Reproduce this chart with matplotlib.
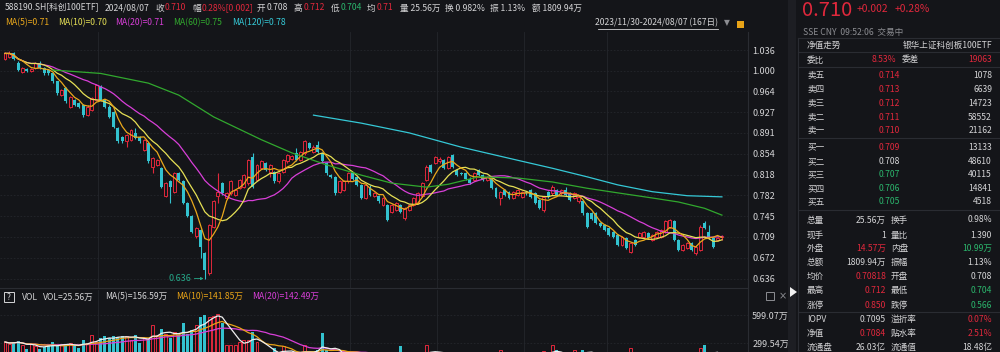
import numpy as np
import pandas as pd
import matplotlib
matplotlib.use("Agg")
import matplotlib.pyplot as plt
from matplotlib.patches import Rectangle, Polygon
from matplotlib.lines import Line2D

plt.rcParams['font.family'] = ['Noto Sans CJK SC', 'DejaVu Sans']

# ---- daily candles 2023/11/30 - 2024/08/07 ----
opens = [1.021, 1.024, 1.030, 1.013, 0.998, 1.002, 0.999, 1.004, 1.013, 1.004,
         1.001, 0.995, 0.981, 0.957, 0.969, 0.937, 0.949, 0.943, 0.940, 0.922,
         0.931, 0.949, 0.972, 0.949, 0.937, 0.928, 0.899, 0.884, 0.876, 0.879,
         0.890, 0.884, 0.861, 0.873, 0.832, 0.835, 0.829, 0.780, 0.806, 0.788,
         0.820, 0.806, 0.768, 0.745, 0.710, 0.721, 0.680, 0.645, 0.727, 0.780,
         0.803, 0.777, 0.785, 0.782, 0.794, 0.797, 0.803, 0.849, 0.809,
         0.829, 0.838, 0.823, 0.823, 0.806, 0.823, 0.841, 0.845, 0.855, 0.844,
         0.855, 0.873, 0.858, 0.870, 0.855, 0.838, 0.817, 0.814, 0.788, 0.791,
         0.806, 0.820, 0.814, 0.800, 0.777, 0.797, 0.780, 0.780, 0.765, 0.765,
         0.753, 0.756, 0.765, 0.742, 0.756, 0.765, 0.768, 0.780, 0.809, 0.835,
         0.838, 0.841, 0.844, 0.829, 0.852, 0.826, 0.821, 0.820, 0.811, 0.809,
         0.826, 0.817, 0.809, 0.811, 0.794, 0.777, 0.791, 0.788, 0.777,
         0.782, 0.779, 0.788, 0.791, 0.785, 0.774, 0.756, 0.788, 0.785, 0.791,
         0.785, 0.791, 0.785, 0.777, 0.771, 0.771, 0.750, 0.750, 0.750, 0.733,
         0.730, 0.724, 0.718, 0.712, 0.695, 0.707, 0.683, 0.704, 0.709, 0.709,
         0.716, 0.704, 0.709, 0.709, 0.718, 0.727, 0.736, 0.704, 0.686, 0.689,
         0.698, 0.680, 0.686, 0.733, 0.718, 0.707, 0.704, 0.708]
highs = [1.033, 1.034, 1.032, 1.016, 1.006, 1.004, 1.004, 1.015, 1.016, 1.006,
         1.003, 0.997, 0.982, 0.968, 0.971, 0.956, 0.951, 0.945, 0.942, 0.939,
         0.954, 0.977, 0.974, 0.951, 0.939, 0.930, 0.901, 0.886, 0.889, 0.898,
         0.899, 0.886, 0.881, 0.875, 0.849, 0.846, 0.831, 0.805, 0.808, 0.822,
         0.822, 0.808, 0.770, 0.747, 0.726, 0.723, 0.682, 0.732, 0.773, 0.820,
         0.805, 0.787, 0.808, 0.793, 0.811, 0.819, 0.846, 0.855, 0.837,
         0.843, 0.840, 0.837, 0.825, 0.822, 0.846, 0.854, 0.853, 0.864, 0.860,
         0.878, 0.875, 0.869, 0.876, 0.857, 0.840, 0.819, 0.816, 0.808, 0.808,
         0.822, 0.822, 0.816, 0.802, 0.802, 0.799, 0.787, 0.782, 0.779, 0.767,
         0.767, 0.770, 0.767, 0.761, 0.767, 0.779, 0.787, 0.805, 0.834, 0.837,
         0.851, 0.848, 0.846, 0.851, 0.854, 0.828, 0.823, 0.822, 0.813, 0.822,
         0.828, 0.819, 0.816, 0.813, 0.796, 0.790, 0.793, 0.790, 0.790,
         0.793, 0.790, 0.790, 0.793, 0.787, 0.776, 0.781, 0.790, 0.799, 0.793,
         0.793, 0.796, 0.787, 0.787, 0.781, 0.773, 0.752, 0.752, 0.752, 0.735,
         0.732, 0.726, 0.720, 0.714, 0.711, 0.709, 0.700, 0.706, 0.717, 0.720,
         0.718, 0.714, 0.720, 0.723, 0.738, 0.741, 0.738, 0.706, 0.697, 0.700,
         0.700, 0.694, 0.729, 0.736, 0.730, 0.709, 0.709, 0.712]
lows = [1.019, 1.022, 1.019, 0.999, 0.996, 0.997, 0.997, 1.002, 1.002, 0.993,
        0.993, 0.979, 0.958, 0.955, 0.944, 0.934, 0.938, 0.935, 0.919, 0.920,
        0.929, 0.947, 0.947, 0.935, 0.917, 0.900, 0.874, 0.873, 0.867, 0.877,
        0.880, 0.874, 0.859, 0.839, 0.820, 0.833, 0.795, 0.778, 0.768, 0.786,
        0.807, 0.766, 0.743, 0.716, 0.707, 0.672, 0.636, 0.643, 0.725, 0.768,
        0.783, 0.775, 0.783, 0.780, 0.792, 0.795, 0.800, 0.795, 0.807,
        0.827, 0.824, 0.814, 0.804, 0.804, 0.821, 0.839, 0.843, 0.842, 0.842,
        0.853, 0.862, 0.856, 0.856, 0.839, 0.818, 0.812, 0.783, 0.786, 0.789,
        0.804, 0.809, 0.798, 0.775, 0.775, 0.780, 0.778, 0.769, 0.763, 0.737,
        0.751, 0.754, 0.751, 0.739, 0.754, 0.763, 0.766, 0.778, 0.807, 0.821,
        0.836, 0.839, 0.827, 0.827, 0.830, 0.815, 0.817, 0.809, 0.801, 0.807,
        0.815, 0.807, 0.807, 0.792, 0.777, 0.765, 0.780, 0.775, 0.775,
        0.780, 0.777, 0.783, 0.777, 0.766, 0.757, 0.753, 0.777, 0.783, 0.780,
        0.783, 0.780, 0.772, 0.775, 0.769, 0.748, 0.725, 0.739, 0.731, 0.726,
        0.719, 0.710, 0.707, 0.693, 0.693, 0.687, 0.680, 0.693, 0.707, 0.707,
        0.705, 0.702, 0.707, 0.707, 0.716, 0.725, 0.702, 0.684, 0.684, 0.687,
        0.684, 0.678, 0.684, 0.722, 0.705, 0.690, 0.702, 0.704]
closes = [1.030, 1.030, 1.021, 1.001, 1.004, 0.999, 1.002, 1.013, 1.004, 0.995,
          0.995, 0.981, 0.960, 0.966, 0.946, 0.954, 0.940, 0.937, 0.922, 0.937,
          0.952, 0.975, 0.949, 0.937, 0.919, 0.902, 0.876, 0.876, 0.887, 0.896,
          0.882, 0.876, 0.879, 0.841, 0.847, 0.844, 0.797, 0.803, 0.797, 0.820,
          0.809, 0.768, 0.745, 0.718, 0.724, 0.692, 0.651, 0.730, 0.771, 0.788,
          0.785, 0.785, 0.806, 0.791, 0.809, 0.817, 0.844, 0.797, 0.835,
          0.841, 0.826, 0.835, 0.806, 0.820, 0.844, 0.852, 0.851, 0.844, 0.858,
          0.876, 0.864, 0.867, 0.858, 0.841, 0.820, 0.814, 0.785, 0.806, 0.806,
          0.820, 0.811, 0.800, 0.777, 0.800, 0.782, 0.785, 0.771, 0.777, 0.739,
          0.765, 0.768, 0.753, 0.759, 0.765, 0.777, 0.785, 0.803, 0.832, 0.823,
          0.849, 0.846, 0.829, 0.849, 0.832, 0.817, 0.819, 0.811, 0.803, 0.820,
          0.817, 0.809, 0.814, 0.794, 0.779, 0.788, 0.782, 0.777, 0.788,
          0.791, 0.788, 0.785, 0.779, 0.768, 0.759, 0.779, 0.779, 0.797, 0.782,
          0.791, 0.782, 0.774, 0.785, 0.779, 0.750, 0.727, 0.741, 0.733, 0.728,
          0.721, 0.712, 0.709, 0.695, 0.709, 0.689, 0.698, 0.695, 0.715, 0.718,
          0.707, 0.712, 0.718, 0.721, 0.736, 0.739, 0.704, 0.686, 0.695, 0.698,
          0.686, 0.692, 0.727, 0.724, 0.707, 0.692, 0.707, 0.710]
# volume, 万手
volumes = [310, 290, 305, 320, 275, 240, 285, 270, 235, 260,
           280, 310, 265, 280, 280, 300, 270, 245, 335, 300,
           385, 310, 350, 370, 350, 375, 360, 370, 375, 335,
           385, 300, 350, 335, 495, 385, 450, 395, 350, 420,
           385, 510, 400, 440, 495, 580, 600, 580, 585, 605,
           510, 280, 280, 280, 310, 335, 335, 420, 310,
           200, 190, 170, 246, 180, 264, 200, 180, 160, 190,
           281, 200, 170, 230, 405, 230, 150, 200, 160, 150,
           170, 180, 150, 160, 170, 140, 130, 150, 140, 190,
           140, 150, 264, 160, 150, 160, 170, 190, 281, 200,
           190, 150, 160, 190, 170, 140, 110, 120, 130, 110,
           120, 130, 120, 170, 180, 228, 160, 140, 130,
           150, 140, 120, 150, 180, 190, 215, 140, 281, 228,
           150, 130, 150, 221, 190, 228, 200, 170, 160, 140,
           160, 170, 180, 190, 160, 170, 246, 160, 150, 130,
           140, 120, 130, 140, 150, 190, 140, 141, 100, 95,
           90, 105, 246, 281, 185, 150, 141, 25.56]

ma60_days = [11, 22, 33, 40, 48, 59, 66, 74, 82, 89, 97, 102, 109, 118, 126,
             134, 141, 149, 155, 161, 165]
ma60_vals = [1.001, 0.995, 0.978, 0.957, 0.919, 0.879, 0.856, 0.835, 0.817,
             0.803, 0.796, 0.801, 0.814, 0.812, 0.805, 0.794, 0.786, 0.777,
             0.770, 0.759, 0.747]
ma120_days = [71, 82, 93, 105, 118, 126, 134, 141, 149, 157, 161, 165]
ma120_vals = [0.922, 0.908, 0.891, 0.866, 0.843, 0.829, 0.814, 0.800, 0.788,
              0.781, 0.780, 0.779]

price_ticks = [1.036, 1.000, 0.964, 0.927, 0.891, 0.854, 0.818, 0.782, 0.745,
               0.709, 0.672, 0.636]
vol_ticks = [599.07, 299.54]
month_starts = [22, 80, 100, 120, 139]

# ---- right side quote panel ----
ask_names = ['卖五', '卖四', '卖三', '卖二', '卖一']
ask_prices = ['0.714', '0.713', '0.712', '0.711', '0.710']
ask_sizes = ['1078', '6639', '14723', '58552', '21162']
bid_names = ['买一', '买二', '买三', '买四', '买五']
bid_prices = ['0.709', '0.708', '0.707', '0.706', '0.705']
bid_sizes = ['13133', '48610', '40115', '14841', '4518']
stat_rows = [('总量', '25.56万', '换手', '0.98%'),
             ('现手', '1', '量比', '1.390'),
             ('外盘', '14.57万', '内盘', '10.99万'),
             ('总额', '1809.94万', '振幅', '1.13%'),
             ('均价', '0.70818', '开盘', '0.708'),
             ('最高', '0.712', '最低', '0.704'),
             ('涨停', '0.850', '跌停', '0.566')]
fund_rows = [('IOPV', '0.7095', '溢折率', '0.07%'),
             ('净值', '0.7084', '贴水率', '2.51%'),
             ('流通盘', '26.03亿', '流通值', '18.48亿')]

W, H = 1000, 352
BG = '#141519'
FG = '#d4d4d6'
GREY = '#8c8d92'
LINE = '#2a2c32'
GRID = '#24262c'
RED = '#e0283c'
CYAN = '#33c2cf'
GREEN = '#2bb56c'
MA_COLORS = {'ma5': '#eaa81c', 'ma10': '#e6e055', 'ma20': '#d83fd8',
             'ma60': '#31a82e', 'ma120': '#35c8d6'}
FS = 6.2

fig = plt.figure(figsize=(W / 100, H / 100), dpi=100, facecolor=BG)


def fx(x):
    return x / W


def fy(y):
    return 1 - y / H


def put(x, y, s, color=FG, size=FS, ha='left', **kw):
    fig.text(fx(x), fy(y), s, color=color, fontsize=size, ha=ha, va='center', **kw)


def hline(x0, x1, y, color=LINE, lw=0.8):
    fig.add_artist(Line2D([fx(x0), fx(x1)], [fy(y), fy(y)], color=color, lw=lw))


def vline(x, y0, y1, color=LINE, lw=0.8):
    fig.add_artist(Line2D([fx(x), fx(x)], [fy(y0), fy(y1)], color=color, lw=lw))


n = len(closes)
idx = np.arange(n)
o, h, l, c = (np.array(a) for a in (opens, highs, lows, closes))
up = c >= o
dn = ~up
X0, DX = 5, 4.345
BW = 0.68

# ---- price panel ----
ax = fig.add_axes([0, fy(288), fx(748), fy(32) - fy(288)])
ax.set_facecolor(BG)
ax.set_xlim(-X0 / DX, (748 - X0) / DX)
ax.set_ylim(1.036 - (288 - 50) / 571.4, 1.036 + (50 - 32) / 571.4)
for s in ax.spines.values():
    s.set_visible(False)
ax.set_xticks([])
ax.yaxis.tick_right()
ax.set_yticks(price_ticks, [f'{t:.3f}' for t in price_ticks])
ax.tick_params(axis='y', length=0, pad=3, labelsize=FS + 0.3, labelcolor=FG)
for t in price_ticks:
    ax.axhline(t, color=GRID, lw=0.6, ls=(0, (2, 2)), zorder=0)
for m in month_starts:
    ax.axvline(m - 0.5, color=GRID, lw=0.6, zorder=0)

ax.vlines(idx[dn], l[dn], h[dn], color=CYAN, lw=0.8, zorder=2)
ax.bar(idx[dn], (o - c)[dn], bottom=c[dn], width=BW, color=CYAN, lw=0, zorder=3)
top = np.maximum(o, c)
ax.vlines(idx[up], top[up], h[up], color=RED, lw=0.8, zorder=2)
ax.vlines(idx[up], l[up], o[up], color=RED, lw=0.8, zorder=2)
ax.bar(idx[up], np.maximum((c - o)[up], 0.0008), bottom=o[up], width=BW,
       facecolor=BG, edgecolor=RED, lw=0.7, zorder=3)

cs = pd.Series(closes)
ax.plot(idx, cs.rolling(20, min_periods=1).mean(), color=MA_COLORS['ma20'], lw=0.9, zorder=4)
ax.plot(idx, cs.rolling(10, min_periods=1).mean(), color=MA_COLORS['ma10'], lw=0.9, zorder=4)
ax.plot(idx, cs.rolling(5, min_periods=1).mean(), color=MA_COLORS['ma5'], lw=0.9, zorder=4)
ax.plot(ma60_days, ma60_vals, color=MA_COLORS['ma60'], lw=0.9, zorder=4)
ax.plot(ma120_days, ma120_vals, color=MA_COLORS['ma120'], lw=0.9, zorder=4)

low_i = int(np.argmin(l))
ax.annotate(f'{l[low_i]:.3f}', xy=(low_i - 0.3, l[low_i]), xytext=(-12, 0),
            textcoords='offset pixels', ha='right', va='center', fontsize=FS + 0.3,
            color='#27a98a',
            arrowprops=dict(arrowstyle='-|>', color='#27a98a', lw=0.6,
                            shrinkA=0, shrinkB=0, mutation_scale=4))

# ---- volume panel ----
vx = fig.add_axes([0, 0, fx(748), fy(290)])
vx.set_facecolor(BG)
vx.set_xlim(ax.get_xlim())
vx.set_ylim(203.3, 866.5)
for s in vx.spines.values():
    s.set_visible(False)
vx.set_xticks([])
vx.yaxis.tick_right()
vx.set_yticks(vol_ticks, [f'{t:.2f}万' for t in vol_ticks])
vx.tick_params(axis='y', length=0, pad=3, labelsize=FS + 0.3, labelcolor=FG)
for t in vol_ticks:
    vx.axhline(t, color=GRID, lw=0.6, ls=(0, (2, 2)), zorder=0)
for m in month_starts:
    vx.axvline(m - 0.5, color=GRID, lw=0.6, zorder=0)
v = np.array(volumes)
vx.bar(idx[dn], v[dn], width=BW, color=CYAN, lw=0, zorder=3)
vx.bar(idx[up], v[up], width=BW, facecolor=BG, edgecolor=RED, lw=0.7, zorder=3)
vs = pd.Series(volumes)
vx.plot(idx, vs.rolling(20, min_periods=1).mean(), color='#d83fd8', lw=0.9, zorder=4)
vx.plot(idx, vs.rolling(10, min_periods=1).mean(), color='#e8a317', lw=0.9, zorder=4)
vx.plot(idx, vs.rolling(5, min_periods=1).mean(), color='#eeeeee', lw=0.9, zorder=4)

# ---- frame lines ----
vline(748, 32, 352, color=LINE)
hline(0, 748, 288, color=LINE)
fig.add_artist(Rectangle((fx(788), 0), fx(8), 1, transform=fig.transFigure,
                         facecolor='#1d1e23', edgecolor='none'))
fig.add_artist(Polygon([[fx(790), fy(287)], [fx(790), fy(297)], [fx(797), fy(292)]],
                       closed=True, transform=fig.transFigure, facecolor='#f0f0f0',
                       edgecolor='none'))
fig.add_artist(Rectangle((fx(766), fy(300)), fx(8), fy(292) - fy(300),
                         transform=fig.transFigure, facecolor='none',
                         edgecolor=GREY, lw=0.7))
put(783, 296, '×', color=GREY, size=7, family='DejaVu Sans', ha='center')

# ---- header text ----
y1 = 8
put(5, y1, '588190.SH[科创100ETF]')
put(105, y1, '2024/08/07')
put(155, y1, '收')
put(165, y1, '0.710', color=RED)
put(192, y1, '幅')
put(202, y1, '0.28%[0.002]', color=RED)
put(257, y1, '开')
put(267, y1, '0.708')
put(294, y1, '高')
put(304, y1, '0.712', color=RED)
put(331, y1, '低')
put(341, y1, '0.704', color=GREEN)
put(367, y1, '均')
put(377, y1, '0.71', color=RED)
put(400, y1, '量 25.56万')
put(445, y1, '换 0.982%')
put(490, y1, '振 1.13%')
put(532, y1, '额 1809.94万')

y2 = 23
put(5, y2, 'MA(5)=0.71', color=MA_COLORS['ma5'])
put(58, y2, 'MA(10)=0.70', color=MA_COLORS['ma10'])
put(115, y2, 'MA(20)=0.71', color=MA_COLORS['ma20'])
put(173, y2, 'MA(60)=0.75', color=MA_COLORS['ma60'])
put(232, y2, 'MA(120)=0.78', color=MA_COLORS['ma120'])
put(718, y2, '2023/11/30-2024/08/07 (167日)', ha='right')
hline(598, 718, 28.5, color=FG, lw=0.6)
put(727, y2, '▼', color=GREY, size=5.5, family='DejaVu Sans', ha='center')
fig.add_artist(Rectangle((fx(737), fy(28)), fx(7), fy(21) - fy(28),
                         transform=fig.transFigure, facecolor='#e8a317',
                         edgecolor='none'))

# volume header
fig.add_artist(Rectangle((fx(4), fy(302)), fx(10), fy(292) - fy(302),
                         transform=fig.transFigure, facecolor='none',
                         edgecolor=FG, lw=0.7))
put(9, 297, '?', ha='center', size=6)
put(22, 297, 'VOL')
put(43, 297, 'VOL=25.56万')
put(105, 297, 'MA(5)=156.59万')
put(176, 297, 'MA(10)=141.85万', color='#e8a317')
put(252, 297, 'MA(20)=142.49万', color='#d83fd8')

# ---- right quote panel ----
fig.text(fx(802), fy(15.5), '0.710', color=RED, fontsize=14.5, ha='left', va='baseline')
fig.text(fx(857), fy(12), '+0.002', color=RED, fontsize=7.4, ha='left', va='baseline')
fig.text(fx(895), fy(12), '+0.28%', color=RED, fontsize=7.4, ha='left', va='baseline')
put(803, 32, 'SSE CNY  09:52:06  交易中', color=GREY)

LX, RX, MX, NX = 807, 992, 886, 891
for y in (38, 52, 67, 138, 210, 312):
    hline(798, 1000, y)
vline(798, 38, 352)
put(LX, 45, '净值走势')
put(RX, 45, '银华上证科创板100ETF', ha='right')
put(LX, 60, '委比')
put(896, 60, '8.53%', color=RED, ha='right')
put(902, 60, '委差')
put(RX, 60, '19063', color=RED, ha='right')

ask_y = [75, 89, 103, 117, 130]
for name, pr, sz, y in zip(ask_names, ask_prices, ask_sizes, ask_y):
    put(LX, y, name)
    put(900, y, pr, color=RED, ha='right')
    put(RX, y, sz, ha='right')

bid_y = [147, 161.5, 175, 188.5, 202]
for name, pr, sz, y in zip(bid_names, bid_prices, bid_sizes, bid_y):
    p = float(pr)
    col = RED if p > 0.708 else (FG if p == 0.708 else GREEN)
    put(LX, y, name)
    put(900, y, pr, color=col, ha='right')
    put(RX, y, sz, ha='right')


def val_color(label, value):
    if label in ('外盘', '均价', '最高', '涨停', '净值', '溢折率', '贴水率'):
        return RED
    if label in ('内盘', '最低', '跌停'):
        return GREEN
    return FG


stat_y = [220, 235, 248.5, 262.5, 276.5, 290.5, 305]
for (a, av, b, bv), y in zip(stat_rows, stat_y):
    put(LX, y, a)
    put(MX, y, av, color=val_color(a, av), ha='right')
    put(NX, y, b)
    put(RX, y, bv, color=val_color(b, bv), ha='right')

fund_y = [319.5, 333.5, 347.5]
for (a, av, b, bv), y in zip(fund_rows, fund_y):
    put(LX, y, a)
    put(MX, y, av, color=val_color(a, av), ha='right')
    put(NX, y, b)
    put(RX, y, bv, color=val_color(b, bv), ha='right')

fig.savefig('out.png', dpi=100, facecolor=BG)
